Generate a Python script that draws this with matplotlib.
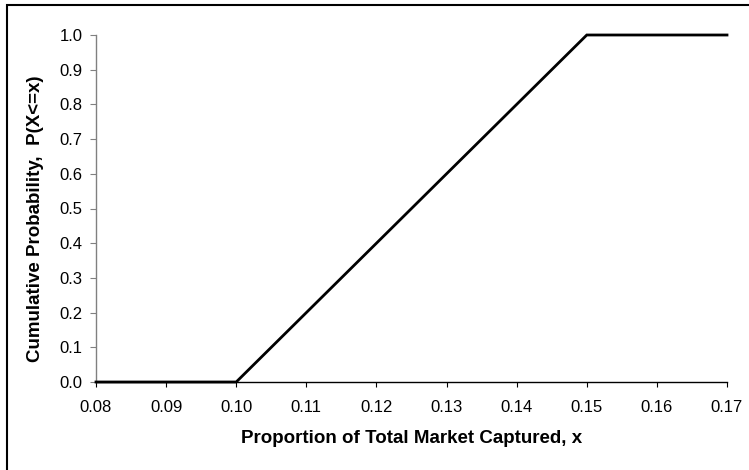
"""Cumulative distribution of market share captured."""

import matplotlib

matplotlib.use("Agg")
from matplotlib import pyplot as plt
from matplotlib.patches import Rectangle

x_vals = [0.08, 0.09, 0.10, 0.11, 0.12, 0.13, 0.14, 0.15, 0.16, 0.17]
cum_prob = [0.0, 0.0, 0.0, 0.2, 0.4, 0.6, 0.8, 1.0, 1.0, 1.0]
x_ticks = [0.08, 0.09, 0.10, 0.11, 0.12, 0.13, 0.14, 0.15, 0.16, 0.17]
y_ticks = [0.0, 0.1, 0.2, 0.3, 0.4, 0.5, 0.6, 0.7, 0.8, 0.9, 1.0]

plt.rcParams["font.family"] = ["Liberation Sans", "DejaVu Sans"]

W, H = 749, 470
fig = plt.figure(figsize=(W / 100, H / 100), dpi=100)
ax = fig.add_axes([96 / W, 1 - 382 / H, (727 - 96) / W, (382 - 35) / H])

ax.plot(x_vals, cum_prob, color="black", linewidth=2.0, solid_joinstyle="miter",
        clip_on=False, zorder=5)

ax.set_xlim(0.08, 0.17)
ax.set_ylim(0.0, 1.0)
ax.set_xticks(x_ticks)
ax.set_xticklabels([f"{v:.2f}" for v in x_ticks])
ax.set_yticks(y_ticks)
ax.set_yticklabels([f"{v:.1f}" for v in y_ticks])

for s in ("top", "right"):
    ax.spines[s].set_visible(False)
ax.spines["left"].set_color("#808080")
ax.spines["left"].set_linewidth(1.0)
ax.spines["bottom"].set_color("black")
ax.spines["bottom"].set_linewidth(1.0)

ax.tick_params(axis="y", direction="out", length=4.3, color="#808080",
               labelsize=12, pad=5.5)
ax.tick_params(axis="x", direction="out", length=3.6, color="black",
               labelsize=12, pad=9)

ax.set_xlabel("Proportion of Total Market Captured, x", fontsize=13.5,
              fontweight="bold", labelpad=11)
ax.set_ylabel("Cumulative Probability,  P(X<=x)", fontsize=13.5,
              fontweight="bold")
ax.yaxis.set_label_coords(-0.083, 0.47)

# outer chart border
fig.patches.append(Rectangle((7 / W, -0.05), 1.1, 1 - 5 / H + 0.05,
                             transform=fig.transFigure, fill=False,
                             edgecolor="black", linewidth=1.5, zorder=10))

fig.savefig("out.png", dpi=100)
plt.close(fig)
